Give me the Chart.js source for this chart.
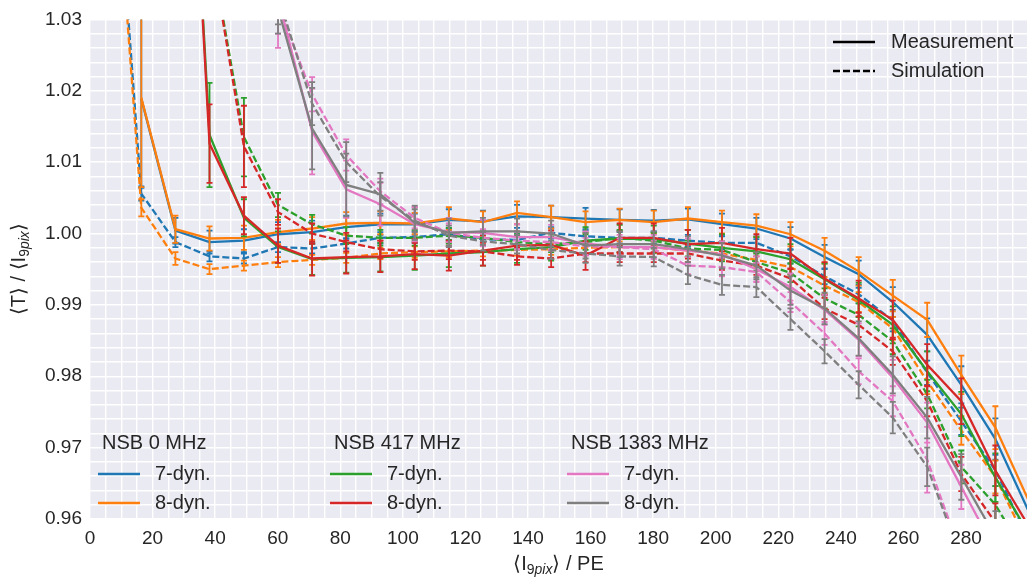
<!DOCTYPE html>
<html>
<head>
<meta charset="utf-8">
<script src="https://cdn.jsdelivr.net/npm/chart.js@4.4.0/dist/chart.umd.min.js"></script>
<style>
  html, body { margin: 0; padding: 0; background: #fff; }
  #wrap { width: 1027px; height: 581px; }
</style>
</head>
<body>
<div id="wrap"><canvas id="chart" width="1027" height="581"></canvas></div>
<script>
// mean <I9pix> of every light level (PE)
const xs = [5.5, 16.4, 27.3, 38.2, 49.2, 60.1, 71.0, 81.9, 92.8, 103.8, 114.7, 125.6, 136.5, 147.4,
  158.4, 169.3, 180.2, 191.1, 202.0, 213.0, 223.9, 234.8, 245.7, 256.6, 267.6, 278.5, 289.4, 300.3];

// <T>/<I9pix>, measurement
const nsb0_7dyn_meas = [null, 1.0189, 1.0004, 0.9988, 0.9990, 0.9999, 1.0002, 1.0009, 1.0013, 1.0013, 1.0019, 1.0017, 1.0024, 1.0023, 1.0021, 1.0019, 1.0018, 1.0020, 1.0013, 1.0007, 0.9993, 0.9967, 0.9943, 0.9904, 0.9858, 0.9788, 0.9712, 0.9608];
const nsb0_8dyn_meas = [null, 1.0190, 1.0006, 0.9993, 0.9994, 1.0002, 1.0007, 1.0014, 1.0015, 1.0014, 1.0021, 1.0016, 1.0029, 1.0023, 1.0016, 1.0019, 1.0016, 1.0021, 1.0016, 1.0011, 0.9999, 0.9976, 0.9947, 0.9913, 0.9879, 0.9802, 0.9728, 0.9623];
const nsb417_7dyn_meas = [null, null, 1.1000, 1.0138, 1.0022, 0.9981, 0.9964, 0.9966, 0.9967, 0.9969, 0.9972, 0.9974, 0.9978, 0.9981, 0.9990, 0.9993, 0.9992, 0.9986, 0.9980, 0.9975, 0.9964, 0.9936, 0.9907, 0.9872, 0.9807, 0.9747, 0.9658, 0.9578];
const nsb417_8dyn_meas = [null, null, 1.1000, 1.0126, 1.0025, 0.9983, 0.9965, 0.9967, 0.9968, 0.9971, 0.9969, 0.9976, 0.9983, 0.9984, 0.9969, 0.9994, 0.9994, 0.9985, 0.9987, 0.9978, 0.9972, 0.9937, 0.9909, 0.9879, 0.9816, 0.9765, 0.9668, 0.9588];
const nsb1383_7dyn_meas = [null, null, null, null, null, 1.0330, 1.0143, 1.0062, 1.0041, 1.0013, 1.0002, 1.0001, 0.9995, 0.9995, 0.9986, 0.9981, 0.9981, 0.9976, 0.9971, 0.9950, 0.9925, 0.9893, 0.9851, 0.9798, 0.9735, 0.9645, 0.9555, null];
const nsb1383_8dyn_meas = [null, null, null, null, null, 1.0315, 1.0147, 1.0068, 1.0055, 1.0015, 1.0001, 1.0003, 1.0003, 1.0000, 0.9983, 0.9985, 0.9985, 0.9978, 0.9969, 0.9955, 0.9920, 0.9895, 0.9853, 0.9802, 0.9742, 0.9659, 0.9575, null];

// <T>/<I9pix>, simulation
const nsb0_7dyn_sim = [1.0700, 1.0056, 0.9988, 0.9968, 0.9965, 0.9981, 0.9979, 0.9986, 0.9994, 0.9995, 0.9999, 0.9992, 0.9991, 1.0001, 0.9996, 0.9994, 0.9994, 0.9990, 0.9987, 0.9987, 0.9968, 0.9940, 0.9915, 0.9878, 0.9805, 0.9737, 0.9668, 0.9570];
const nsb0_8dyn_sim = [1.0680, 1.0036, 0.9965, 0.9950, 0.9955, 0.9960, 0.9963, 0.9966, 0.9972, 0.9974, 0.9975, 0.9976, 0.9977, 0.9978, 0.9980, 0.9981, 0.9981, 0.9976, 0.9972, 0.9963, 0.9953, 0.9927, 0.9904, 0.9867, 0.9793, 0.9724, 0.9659, 0.9560];
const nsb417_7dyn_sim = [null, null, null, 1.0410, 1.0135, 1.0040, 1.0013, 0.9997, 0.9994, 0.9994, 0.9997, 0.9994, 0.9988, 0.9985, 0.9988, 0.9994, 0.9990, 0.9979, 0.9977, 0.9960, 0.9945, 0.9909, 0.9886, 0.9849, 0.9775, 0.9673, 0.9620, 0.9540];
const nsb417_8dyn_sim = [null, null, null, 1.0410, 1.0122, 1.0030, 1.0000, 0.9988, 0.9978, 0.9975, 0.9976, 0.9975, 0.9968, 0.9965, 0.9972, 0.9972, 0.9972, 0.9972, 0.9962, 0.9955, 0.9937, 0.9895, 0.9872, 0.9835, 0.9765, 0.9663, 0.9595, null];
const nsb1383_7dyn_sim = [null, null, null, null, null, 1.0320, 1.0195, 1.0110, 1.0059, 1.0022, 1.0001, 0.9994, 0.9990, 0.9988, 0.9982, 0.9981, 0.9978, 0.9955, 0.9953, 0.9946, 0.9904, 0.9860, 0.9807, 0.9765, 0.9683, 0.9550, null, null];
const nsb1383_8dyn_sim = [null, null, null, null, null, 1.0333, 1.0182, 1.0100, 1.0052, 1.0018, 0.9997, 0.9989, 0.9985, 0.9977, 0.9972, 0.9968, 0.9967, 0.9942, 0.9928, 0.9925, 0.9880, 0.9835, 0.9788, 0.9742, 0.9673, 0.9545, null, null];

// half length of the error bars
const nsb0_7dyn_meas_err = [null, 0.0125, 0.0018, 0.0016, 0.0016, 0.0017, 0.0016, 0.0016, 0.0015, 0.0015, 0.0015, 0.0015, 0.0016, 0.0016, 0.0015, 0.0015, 0.0015, 0.0015, 0.0015, 0.0015, 0.0016, 0.0017, 0.0019, 0.0021, 0.0023, 0.0026, 0.0029, null];
const nsb0_8dyn_meas_err = [null, 0.0125, 0.0019, 0.0017, 0.0017, 0.0017, 0.0016, 0.0016, 0.0016, 0.0015, 0.0016, 0.0015, 0.0016, 0.0016, 0.0015, 0.0016, 0.0016, 0.0016, 0.0016, 0.0016, 0.0017, 0.0018, 0.0020, 0.0022, 0.0024, 0.0027, 0.0030, null];
const nsb417_7dyn_meas_err = [null, null, 0.0100, 0.0073, 0.0026, 0.0022, 0.0022, 0.0021, 0.0020, 0.0020, 0.0019, 0.0019, 0.0019, 0.0019, 0.0019, 0.0019, 0.0019, 0.0019, 0.0019, 0.0020, 0.0021, 0.0022, 0.0024, 0.0026, 0.0028, 0.0031, 0.0034, null];
const nsb417_8dyn_meas_err = [null, null, 0.0100, 0.0055, 0.0026, 0.0024, 0.0024, 0.0023, 0.0022, 0.0021, 0.0021, 0.0021, 0.0020, 0.0020, 0.0020, 0.0020, 0.0020, 0.0020, 0.0021, 0.0021, 0.0022, 0.0023, 0.0025, 0.0027, 0.0029, 0.0032, 0.0035, null];
const nsb1383_7dyn_meas_err = [null, null, null, null, null, 0.0070, 0.0060, 0.0040, 0.0030, 0.0024, 0.0020, 0.0018, 0.0018, 0.0017, 0.0017, 0.0017, 0.0017, 0.0017, 0.0018, 0.0018, 0.0019, 0.0021, 0.0023, 0.0025, 0.0028, 0.0031, 0.0034, null];
const nsb1383_8dyn_meas_err = [null, null, null, null, null, 0.0035, 0.0057, 0.0044, 0.0030, 0.0024, 0.0020, 0.0019, 0.0018, 0.0018, 0.0018, 0.0018, 0.0018, 0.0018, 0.0018, 0.0019, 0.0020, 0.0022, 0.0024, 0.0026, 0.0029, 0.0032, 0.0036, null];
const nsb0_7dyn_sim_err = [0.0030, 0.0010, 0.0007, 0.0007, 0.0007, 0.0007, 0.0007, 0.0007, 0.0008, 0.0008, 0.0008, 0.0008, 0.0008, 0.0008, 0.0008, 0.0008, 0.0008, 0.0008, 0.0009, 0.0009, 0.0010, 0.0011, 0.0013, 0.0015, 0.0017, 0.0019, 0.0022, null];
const nsb0_8dyn_sim_err = [0.0030, 0.0012, 0.0009, 0.0007, 0.0007, 0.0007, 0.0007, 0.0007, 0.0008, 0.0008, 0.0008, 0.0008, 0.0008, 0.0008, 0.0008, 0.0008, 0.0008, 0.0009, 0.0009, 0.0010, 0.0011, 0.0012, 0.0014, 0.0016, 0.0018, 0.0020, 0.0023, null];
const nsb417_7dyn_sim_err = [null, null, null, 0.0080, 0.0055, 0.0017, 0.0013, 0.0012, 0.0011, 0.0011, 0.0011, 0.0011, 0.0011, 0.0011, 0.0011, 0.0011, 0.0011, 0.0011, 0.0012, 0.0012, 0.0013, 0.0014, 0.0016, 0.0018, 0.0020, 0.0023, 0.0026, null];
const nsb417_8dyn_sim_err = [null, null, null, 0.0080, 0.0057, 0.0018, 0.0014, 0.0013, 0.0012, 0.0012, 0.0012, 0.0012, 0.0012, 0.0012, 0.0012, 0.0012, 0.0012, 0.0012, 0.0013, 0.0013, 0.0014, 0.0015, 0.0017, 0.0019, 0.0021, 0.0024, 0.0027, null];
const nsb1383_7dyn_sim_err = [null, null, null, null, null, 0.0040, 0.0024, 0.0022, 0.0018, 0.0015, 0.0013, 0.0012, 0.0012, 0.0012, 0.0012, 0.0012, 0.0012, 0.0012, 0.0013, 0.0013, 0.0014, 0.0016, 0.0018, 0.0021, 0.0046, 0.0040, null, null];
const nsb1383_8dyn_sim_err = [null, null, null, null, null, 0.0040, 0.0030, 0.0028, 0.0020, 0.0016, 0.0014, 0.0013, 0.0013, 0.0013, 0.0013, 0.0013, 0.0013, 0.0013, 0.0014, 0.0014, 0.0015, 0.0017, 0.0019, 0.0022, 0.0027, 0.0035, null, null];

const nsbLabels = ["NSB 0 MHz", "NSB 417 MHz", "NSB 1383 MHz"];
const dynLabels = ["7-dyn.", "8-dyn."];
const colors = ["#1f77b4", "#ff7f0e", "#2ca02c", "#d62728", "#e377c2", "#7f7f7f"];

const FONT = "'Liberation Sans', Arial, sans-serif";
const TEXT = "#262626";
const DASH = [7, 3];

function series(values, errors, color, dashed, k) {
  return {
    data: xs.map((x, i) => ({ x: x, y: values[i], err: errors[i] })).filter((p) => p.y !== null),
    borderColor: color,
    borderWidth: 2.3,
    borderDash: dashed ? DASH : [],
    pointRadius: 0,
    tension: 0,
    fill: false,
    order: -k,
  };
}

const datasets = [
  series(nsb0_7dyn_meas, nsb0_7dyn_meas_err, colors[0], false, 0),
  series(nsb0_7dyn_sim, nsb0_7dyn_sim_err, colors[0], true, 1),
  series(nsb0_8dyn_meas, nsb0_8dyn_meas_err, colors[1], false, 2),
  series(nsb0_8dyn_sim, nsb0_8dyn_sim_err, colors[1], true, 3),
  series(nsb417_7dyn_meas, nsb417_7dyn_meas_err, colors[2], false, 4),
  series(nsb417_7dyn_sim, nsb417_7dyn_sim_err, colors[2], true, 5),
  series(nsb417_8dyn_meas, nsb417_8dyn_meas_err, colors[3], false, 6),
  series(nsb417_8dyn_sim, nsb417_8dyn_sim_err, colors[3], true, 7),
  series(nsb1383_7dyn_meas, nsb1383_7dyn_meas_err, colors[4], false, 8),
  series(nsb1383_7dyn_sim, nsb1383_7dyn_sim_err, colors[4], true, 9),
  series(nsb1383_8dyn_meas, nsb1383_8dyn_meas_err, colors[5], false, 10),
  series(nsb1383_8dyn_sim, nsb1383_8dyn_sim_err, colors[5], true, 11),
];

// grey background of the plot area
const background = {
  id: "background",
  beforeDraw(chart) {
    const { ctx, chartArea } = chart;
    ctx.save();
    ctx.fillStyle = "#eaeaf2";
    ctx.fillRect(chartArea.left, chartArea.top, chartArea.width, chartArea.height);
    ctx.restore();
  },
};

// error bars with caps, drawn right after their line
const errorBars = {
  id: "errorBars",
  afterDatasetDraw(chart, args) {
    const ds = chart.data.datasets[args.index];
    const { ctx, chartArea, scales } = chart;
    ctx.save();
    ctx.beginPath();
    ctx.rect(chartArea.left, chartArea.top, chartArea.width, chartArea.height);
    ctx.clip();
    ctx.strokeStyle = ds.borderColor;
    ctx.lineWidth = 1.8;
    ctx.setLineDash([]);
    ds.data.forEach((p) => {
      if (p.err === null || p.err === undefined) return;
      const px = scales.x.getPixelForValue(p.x);
      const top = scales.y.getPixelForValue(p.y + p.err);
      const bot = scales.y.getPixelForValue(p.y - p.err);
      ctx.beginPath();
      ctx.moveTo(px, top);
      ctx.lineTo(px, bot);
      ctx.moveTo(px - 3, top);
      ctx.lineTo(px + 3, top);
      ctx.moveTo(px - 3, bot);
      ctx.lineTo(px + 3, bot);
      ctx.stroke();
    });
    ctx.restore();
  },
};

// draws "<I9pix>" style text with an italic subscript, returns the width
function drawParts(ctx, parts, x, y, measureOnly) {
  let w = 0;
  parts.forEach((part) => {
    ctx.font = part.font;
    const pw = ctx.measureText(part.text).width;
    if (!measureOnly) ctx.fillText(part.text, x + w, y + (part.dy || 0));
    w += pw;
  });
  return w;
}

function i9pix(size) {
  const sub = Math.round(size * 0.7);
  return [
    { text: "⟨I", font: size + "px " + FONT },
    { text: "9", font: sub + "px " + FONT, dy: size * 0.22 },
    { text: "pix", font: "italic " + sub + "px " + FONT, dy: size * 0.22 },
    { text: "⟩", font: size + "px " + FONT },
  ];
}

const axisTitles = {
  id: "axisTitles",
  afterDraw(chart) {
    const { ctx, chartArea } = chart;
    const size = 20;
    ctx.save();
    ctx.fillStyle = TEXT;
    ctx.textBaseline = "alphabetic";
    ctx.textAlign = "left";

    const xParts = i9pix(size).concat([{ text: " / PE", font: size + "px " + FONT }]);
    const xw = drawParts(ctx, xParts, 0, 0, true);
    drawParts(ctx, xParts, (chartArea.left + chartArea.right) / 2 - xw / 2, 570);

    const yParts = [{ text: "⟨T⟩ / ", font: size + "px " + FONT }].concat(i9pix(size));
    const yw = drawParts(ctx, yParts, 0, 0, true);
    ctx.translate(25, (chartArea.top + chartArea.bottom) / 2);
    ctx.rotate(-Math.PI / 2);
    drawParts(ctx, yParts, -yw / 2, 0);
    ctx.restore();
  },
};

const legends = {
  id: "legends",
  afterDraw(chart) {
    const { ctx } = chart;
    ctx.save();
    ctx.textBaseline = "middle";
    ctx.textAlign = "left";
    ctx.fillStyle = TEXT;
    ctx.font = "20px " + FONT;
    ctx.lineWidth = 2.3;

    // line style legend
    ctx.strokeStyle = "#000";
    [["Measurement", []], ["Simulation", DASH]].forEach((item, i) => {
      const y = 42 + i * 29;
      ctx.setLineDash(item[1]);
      ctx.beginPath();
      ctx.moveTo(833, y);
      ctx.lineTo(875, y);
      ctx.stroke();
      ctx.fillText(item[0], 891, y);
    });

    // colour legend, one column per NSB level
    ctx.setLineDash([]);
    const colX = [98, 330, 567];
    nsbLabels.forEach((title, c) => {
      ctx.fillStyle = TEXT;
      ctx.fillText(title, colX[c] + 4, 443);
      dynLabels.forEach((lab, d) => {
        const y = 474 + d * 29;
        ctx.strokeStyle = colors[c * 2 + d];
        ctx.beginPath();
        ctx.moveTo(colX[c], y);
        ctx.lineTo(colX[c] + 42, y);
        ctx.stroke();
        ctx.fillText(lab, colX[c] + 57, y);
      });
    });
    ctx.restore();
  },
};

const ctx = document.getElementById("chart").getContext("2d");
new Chart(ctx, {
  type: "line",
  data: { datasets: datasets },
  options: {
    responsive: false,
    animation: false,
    layout: { padding: { top: 15, right: 0, left: 0, bottom: 0 } },
    plugins: { legend: { display: false }, tooltip: { enabled: false } },
    scales: {
      x: {
        type: "linear",
        min: 0,
        max: 299.5,
        border: { display: false },
        grid: { color: "#ffffff", lineWidth: 1.4, drawTicks: false },
        ticks: {
          stepSize: 5,
          includeBounds: false,
          autoSkip: false,
          maxRotation: 0,
          padding: 8,
          color: TEXT,
          font: { family: FONT, size: 19 },
          callback: (v) => (Math.round(v) % 20 === 0 ? String(Math.round(v)) : ""),
        },
        afterFit: (scale) => { scale.height = 62; },
      },
      y: {
        type: "linear",
        min: 0.96,
        max: 1.03,
        border: { display: false },
        grid: { color: "#ffffff", lineWidth: 1.4, drawTicks: false },
        ticks: {
          stepSize: 0.002,
          autoSkip: false,
          padding: 8,
          color: TEXT,
          font: { family: FONT, size: 19 },
          callback: (v) => (Math.round(v * 1000) % 10 === 0 ? v.toFixed(2) : ""),
        },
        afterFit: (scale) => { scale.width = 90; },
      },
    },
  },
  plugins: [background, errorBars, axisTitles, legends],
});
</script>
</body>
</html>
